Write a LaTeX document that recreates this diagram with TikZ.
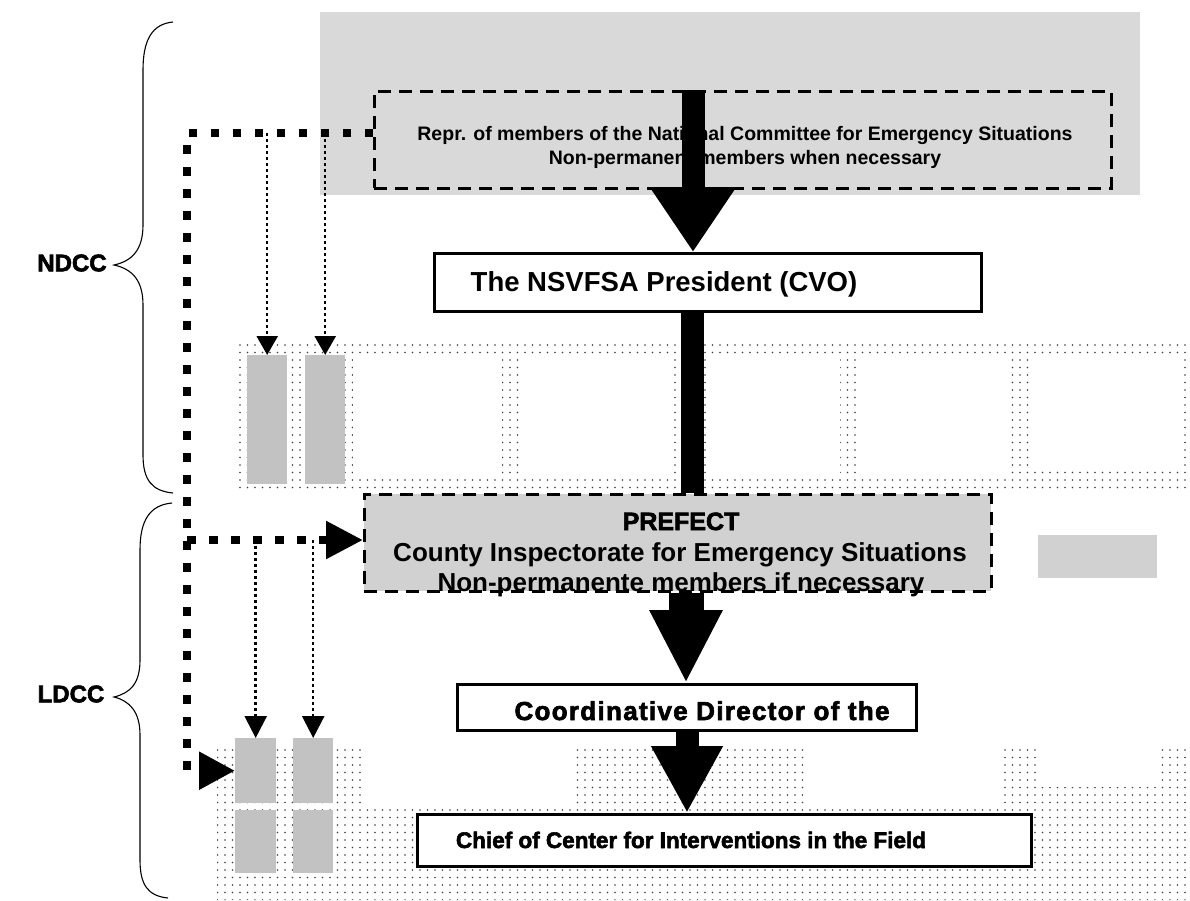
\documentclass[tikz,border=0pt]{standalone}
\usepackage{fontspec}
\setmainfont{Liberation Sans}
\newfontfamily\heavy{Liberation Sans}[FakeBold=2.5]
\newfontfamily\heavysp{Liberation Sans}[FakeBold=2.5,LetterSpace=5]
\usetikzlibrary{arrows.meta,patterns.meta}
\begin{document}
\begin{tikzpicture}[x=1pt,y=-1pt,
  box/.style={draw, line width=3pt, fill=white, inner sep=0pt, anchor=north west},
  dbox/.style={draw, line width=2.5pt, dash pattern=on 13pt off 8pt, inner sep=0pt, anchor=north west},
  dotsfill/.style={pattern={Dots[distance=7.5pt,radius=0.8pt]}, pattern color=black!75},
  grayrect/.style={fill=black!24, draw=none, inner sep=0pt, anchor=north west},
  panel/.style={fill=white, draw=none},
  thickdots/.style={line width=8.5pt, dash pattern=on 8.5pt off 13.5pt},
  thindots/.style={line width=2.5pt, dash pattern=on 2.5pt off 3.5pt},
  brace/.style={line width=1.1pt},
  txt/.style={font=\bfseries, inner sep=0pt, anchor=base},
  lab/.style={font=\heavy\bfseries\fontsize{24}{28}\selectfont, inner sep=0pt}
]
\useasboundingbox (0,0) rectangle (1190,900);
\fill[white] (0,0) rectangle (1190,900);

% gray background of the top area
\fill[black!15] (320,12) rectangle (1140,195);

% dotted middle band with white panels
\fill[dotsfill] (237,342) rectangle (1190,493);
\fill[panel] (353,357) rectangle (502,477);
\fill[panel] (520,357) rectangle (673,477);
\fill[panel] (710,357) rectangle (840,477);
\fill[panel] (860,357) rectangle (1007,477);
\fill[panel] (1030,357) rectangle (1180,467);

% dotted lower area
\fill[dotsfill] (217,745) rectangle (365,900)
                (365,805) rectangle (1190,900)
                (573,745) rectangle (805,805)
                (1000,745) rectangle (1040,805)
                (1040,787) rectangle (1190,805)
                (1160,745) rectangle (1190,790);

% gray rectangles
\node[grayrect, minimum width=40pt, minimum height=129pt] (g1) at (247,355) {};
\node[grayrect, minimum width=40pt, minimum height=129pt] (g2) at (305,355) {};
\node[grayrect, minimum width=41pt, minimum height=65pt] (g3) at (235,738) {};
\node[grayrect, minimum width=40pt, minimum height=65pt] (g4) at (293,738) {};
\node[grayrect, minimum width=41pt, minimum height=63pt] (g5) at (235,810) {};
\node[grayrect, minimum width=40pt, minimum height=63pt] (g6) at (293,810) {};
\node[grayrect, fill=black!18, minimum width=119pt, minimum height=43pt] (g7) at (1038,535) {};

% boxes
\node[dbox, minimum width=737pt, minimum height=97pt] (top) at (373,90) {};
\node[box, minimum width=547pt, minimum height=58pt] (pres) at (433,252) {};
\node[dbox, fill=black!18, minimum width=627pt, minimum height=97pt] (pref) at (363,493) {};
\node[box, minimum width=459pt, minimum height=46pt] (coord) at (456,683) {};
\node[box, minimum width=614pt, minimum height=52pt] (chief) at (416,813) {};

% texts
\node[txt, font=\bfseries\fontsize{19.5}{23}\selectfont] (t1a) at (745,140) {Repr. of members of the National Committee for Emergency Situations};
\node[txt, font=\bfseries\fontsize{19.5}{23}\selectfont] (t1b) at (745,164) {Non-permanent members when necessary};
\node[txt, font=\bfseries\fontsize{27.5}{32}\selectfont] (t2) at (664,291) {The NSVFSA President (CVO)};
\node[txt, font=\heavy\bfseries\fontsize{25}{29}\selectfont] (t3a) at (681,530) {PREFECT};
\node[txt, font=\bfseries\fontsize{26}{30}\selectfont] (t3b) at (680,561) {County Inspectorate for Emergency Situations};
\node[txt, font=\bfseries\fontsize{26}{30}\selectfont] (t3c) at (681,591) {Non-permanente members if necessary};
\node[txt, font=\heavysp\bfseries\fontsize{26}{30}\selectfont] (t4) at (702,720) {Coordinative Director of the};
\node[txt, font=\heavy\bfseries\fontsize{22.5}{26}\selectfont] (t5) at (691,848) {Chief of Center for Interventions in the Field};

% side labels and braces
\node[lab] (ndcc) at (72,263) {NDCC};
\node[lab] (ldcc) at (71,694) {LDCC};
\draw[brace] (173,22) .. controls (152,24) and (143,40) .. (143,70) -- (143,225)
  .. controls (143,250) and (132,261) .. (114,265)
  .. controls (132,269) and (143,280) .. (143,305) -- (143,455)
  .. controls (143,480) and (152,491) .. (173,493);
\draw[brace] (172,503) .. controls (150,505) and (140,520) .. (140,550) -- (140,660)
  .. controls (140,684) and (130,693) .. (114,697)
  .. controls (130,701) and (140,712) .. (140,735) -- (140,860)
  .. controls (140,885) and (148,896) .. (168,898);

% big block arrows
\coordinate (a1) at (693,0);
\coordinate (a2) at (686,0);
\coordinate (a3) at (687,0);
\coordinate (a4) at (692,0);
\draw[line width=23pt, -{Triangle[length=65pt,width=82pt]}] (top.north -| a1) -- (pres.north -| a1);
\draw[line width=23pt] (pres.south -| a4) -- (pref.north -| a4);
\draw[line width=35pt, -{Triangle[length=73pt,width=68pt]}] (pref.south -| a2) -- (coord.north -| a2);
\draw[line width=23pt, -{Triangle[length=67pt,width=67pt]}] (coord.south -| a3) -- (chief.north -| a3);

% dotted connectors
\coordinate (c1) at (187,133);
\coordinate (c3) at (187,540);
\draw[thickdots, -{Triangle[length=36pt,width=36pt]}] (top.west |- c1) -- (c1) |- (g3.west);
\draw[thickdots, -{Triangle[length=37pt,width=36pt]}] (c3) -- (pref.west |- c3);
\draw[thindots, -{Triangle[length=19pt,width=21pt]}] (g1.north |- c1) -- (g1.north);
\draw[thindots, -{Triangle[length=19pt,width=21pt]}] (g2.north |- c1) -- (g2.north);
\draw[thindots, -{Triangle[length=22pt,width=22pt]}] (g3.north |- c3) -- (g3.north);
\draw[thindots, -{Triangle[length=22pt,width=22pt]}] (g4.north |- c3) -- (g4.north);
\end{tikzpicture}
\end{document}
